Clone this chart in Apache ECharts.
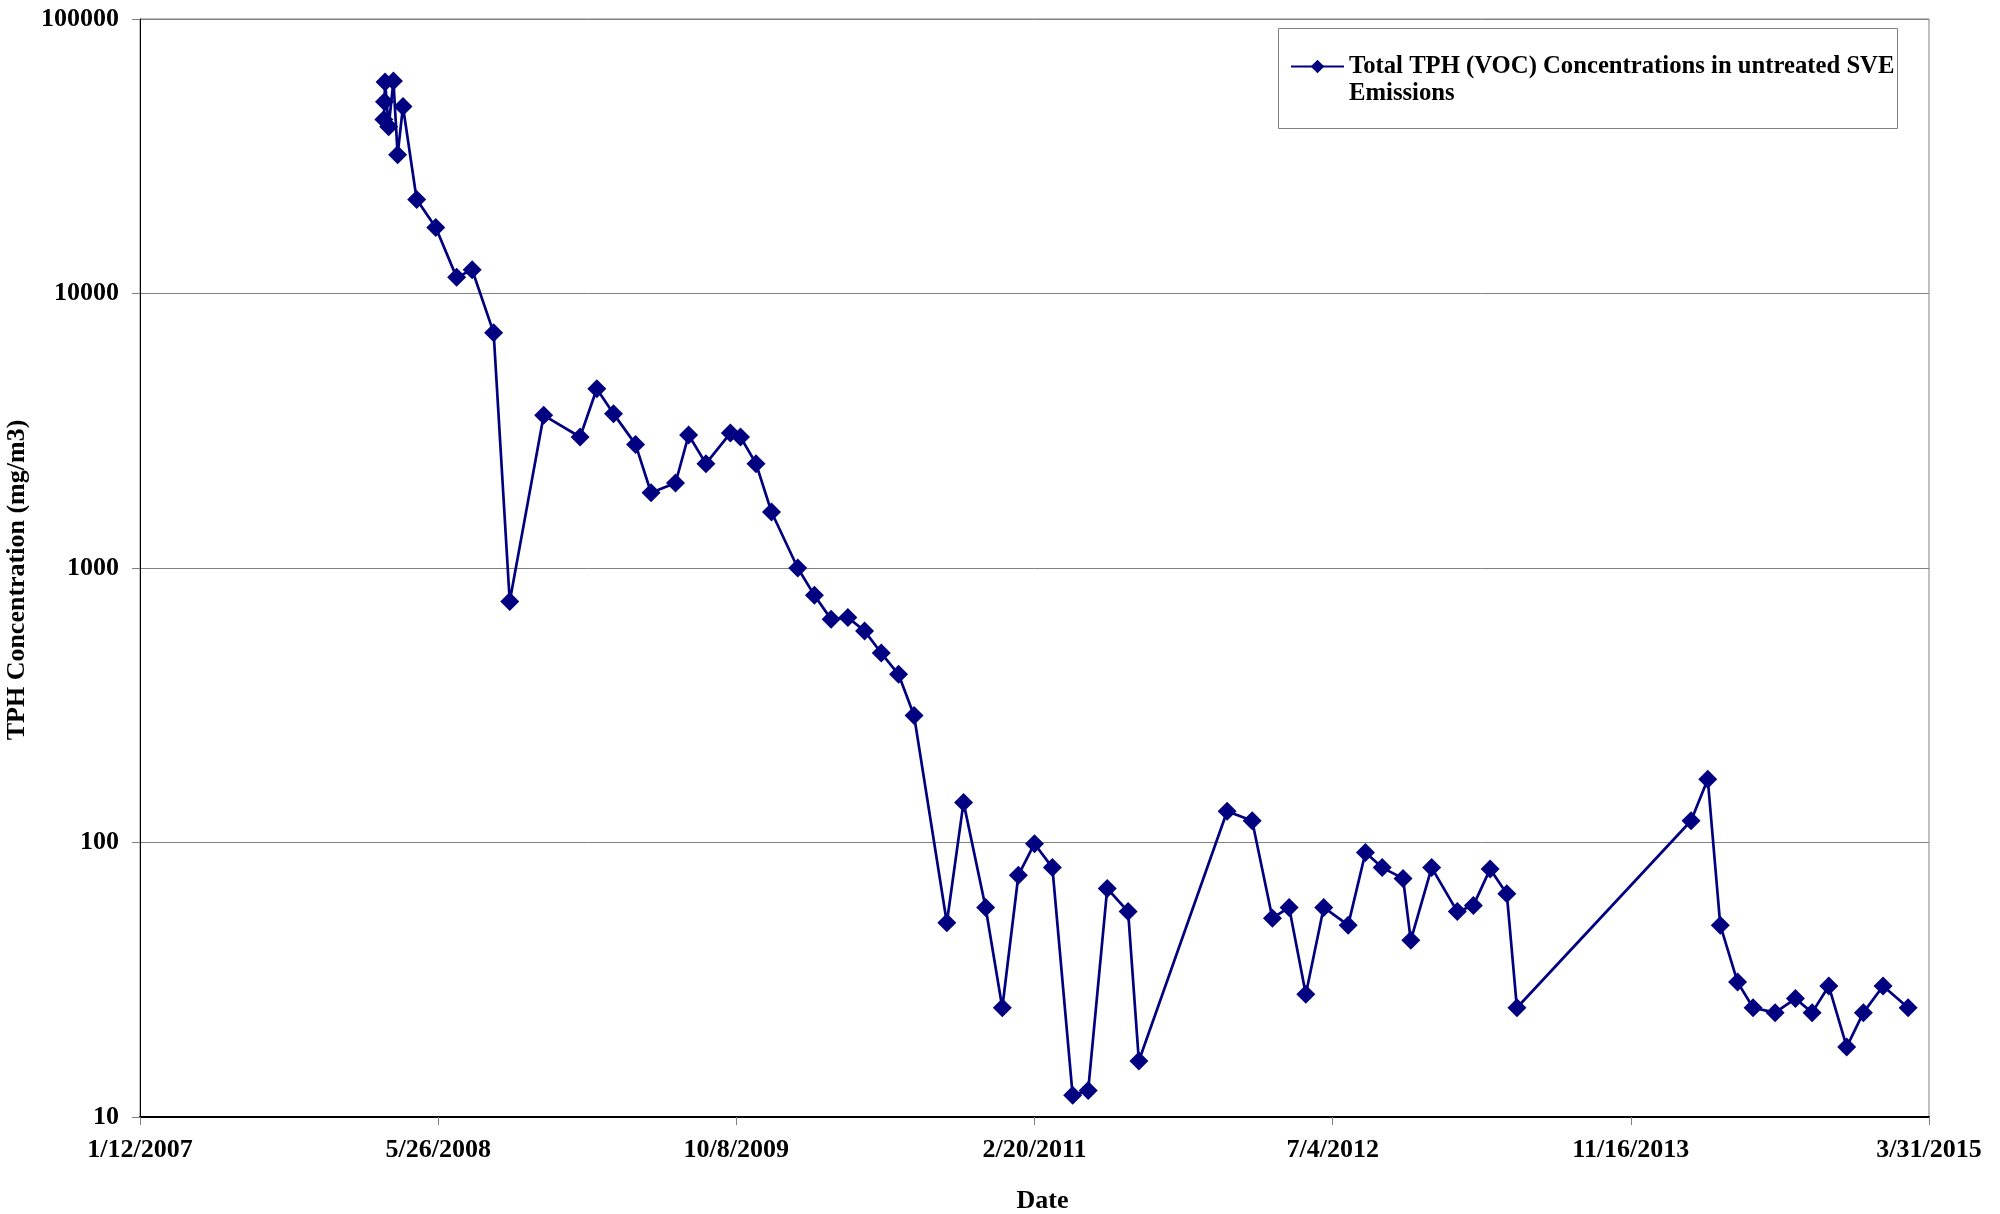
<!DOCTYPE html>
<html>
<head>
<meta charset="utf-8">
<title>TPH Concentration</title>
<script src="https://cdn.jsdelivr.net/npm/echarts@6/dist/echarts.min.js"></script>
<style>
  html, body { margin: 0; padding: 0; background: #ffffff; }
  #chart { width: 2000px; height: 1214px; }
</style>
</head>
<body>
<div id="chart"></div>
<script>
// Sampling dates of untreated SVE emissions
const sampleDates = [
  '2008-02-25', '2008-02-26', '2008-02-27', '2008-03-04', '2008-03-12', '2008-03-19', '2008-03-28',
  '2008-04-20', '2008-05-22', '2008-06-26', '2008-07-22', '2008-08-27', '2008-09-23', '2008-11-19',
  '2009-01-19', '2009-02-16', '2009-03-16', '2009-04-22', '2009-05-18', '2009-06-28', '2009-07-20',
  '2009-08-18', '2009-09-28', '2009-10-15', '2009-11-10', '2009-12-06', '2010-01-19', '2010-02-16',
  '2010-03-16', '2010-04-13', '2010-05-11', '2010-06-08', '2010-07-07', '2010-08-02', '2010-09-26',
  '2010-10-24', '2010-11-30', '2010-12-28', '2011-01-24', '2011-02-20', '2011-03-22', '2011-04-25',
  '2011-05-21', '2011-06-22', '2011-07-27', '2011-08-14', '2012-01-09', '2012-02-20', '2012-03-25',
  '2012-04-22', '2012-05-20', '2012-06-19', '2012-07-30', '2012-08-28', '2012-09-25', '2012-10-30',
  '2012-11-12', '2012-12-17', '2013-01-29', '2013-02-25', '2013-03-25', '2013-04-22', '2013-05-09',
  '2014-02-25', '2014-03-25', '2014-04-15', '2014-05-14', '2014-06-09', '2014-07-16', '2014-08-19',
  '2014-09-16', '2014-10-14', '2014-11-13', '2014-12-11', '2015-01-13', '2015-02-24'
];

// Total TPH (VOC) concentration, mg/m3
const tphValues = [
  43000, 50000, 59000, 40500, 59500, 32000, 48000,
  22000, 17400, 11450, 12200, 7200, 755, 3600,
  3000, 4500, 3650, 2820, 1880, 2040, 3050,
  2400, 3100, 3000, 2400, 1600, 1000, 795,
  650, 660, 590, 490, 410, 290, 51,
  140, 58, 25, 76, 99, 81, 12,
  12.5, 68, 56, 16, 130, 120, 53,
  58, 28, 58, 50, 92, 81, 74,
  44, 81, 56, 59, 80, 65, 25,
  120, 170, 50, 31, 25, 24, 27,
  24, 30, 18, 24, 30, 25
];

// Date axis: days counted from the first tick, one tick every 500 days
const axisStart = '2007-01-12';
const axisEndDays = 3000;
const tickStepDays = 500;

const seriesName = 'Total TPH (VOC) Concentrations in untreated SVE Emissions';
const legendLines = ['Total TPH (VOC) Concentrations in untreated SVE', 'Emissions'];

const DAY_MS = 86400000;
const startMs = Date.parse(axisStart + 'T00:00:00Z');
const toDays = (iso) => (Date.parse(iso + 'T00:00:00Z') - startMs) / DAY_MS;
const formatDate = (days) => {
  const d = new Date(startMs + Math.round(days) * DAY_MS);
  return (d.getUTCMonth() + 1) + '/' + d.getUTCDate() + '/' + d.getUTCFullYear();
};

const points = sampleDates.map((d, i) => [toDays(d), tphValues[i]]);

const NAVY = '#000080';
const FONT = '"Liberation Serif", "Times New Roman", serif';
const labelFont = { fontFamily: FONT, fontWeight: 'bold', fontSize: 26, color: '#000000' };

const chart = echarts.init(document.getElementById('chart'), null, { renderer: 'canvas' });

chart.setOption({
  animation: false,
  backgroundColor: '#ffffff',
  grid: {
    left: 140, right: 71, top: 19, bottom: 97,
    containLabel: false,
    outerBoundsMode: 'none',
    show: true, borderColor: '#808080', borderWidth: 1
  },
  xAxis: {
    type: 'value',
    min: 0,
    max: axisEndDays,
    interval: tickStepDays,
    name: 'Date',
    nameLocation: 'middle',
    nameGap: 71,
    nameTextStyle: Object.assign({ padding: [0, 0, 0, 16] }, labelFont),
    axisLine: { show: true, onZero: false, lineStyle: { color: '#000000', width: 2 } },
    axisTick: { show: true, inside: false, length: 8, lineStyle: { color: '#808080', width: 1 } },
    axisLabel: Object.assign({ margin: 20, formatter: formatDate, hideOverlap: false }, labelFont),
    splitLine: { show: false }
  },
  yAxis: {
    type: 'log',
    logBase: 10,
    min: 10,
    max: 100000,
    name: 'TPH Concentration (mg/m3)',
    nameLocation: 'middle',
    nameRotate: 90,
    nameGap: 89,
    nameTextStyle: Object.assign({ padding: [0, 24, 0, 0] }, labelFont),
    axisLine: { show: true, lineStyle: { color: '#000000', width: 1 } },
    axisTick: { show: true, inside: false, length: 8, lineStyle: { color: '#808080', width: 1 } },
    axisLabel: Object.assign({ margin: 21, formatter: (v) => String(Math.round(v)) }, labelFont),
    splitLine: { show: true, lineStyle: { color: '#808080', width: 1 } },
    minorTick: { show: false },
    minorSplitLine: { show: false }
  },
  legend: {
    show: true,
    left: 1290,
    top: 26,
    padding: 0,
    orient: 'vertical',
    itemWidth: 53,
    itemHeight: 17,
    data: [seriesName],
    // empty first row keeps the first text row level with the marker
    formatter: () => '\n' + legendLines.join('\n'),
    textStyle: {
      fontFamily: FONT, fontWeight: 'bold', fontSize: 24.7, color: '#000000',
      lineHeight: 27
    }
  },
  graphic: [{
    type: 'rect',
    left: 1278,
    top: 28,
    z: -1,
    shape: { width: 619, height: 100 },
    style: { fill: '#ffffff', stroke: '#808080', lineWidth: 1 }
  }],
  series: [{
    name: seriesName,
    type: 'line',
    data: points,
    symbol: 'diamond',
    symbolSize: 19,
    showAllSymbol: true,
    smooth: false,
    lineStyle: { color: NAVY, width: 2.7 },
    itemStyle: { color: NAVY, borderWidth: 0 },
    emphasis: { disabled: true }
  }]
});
</script>
</body>
</html>
